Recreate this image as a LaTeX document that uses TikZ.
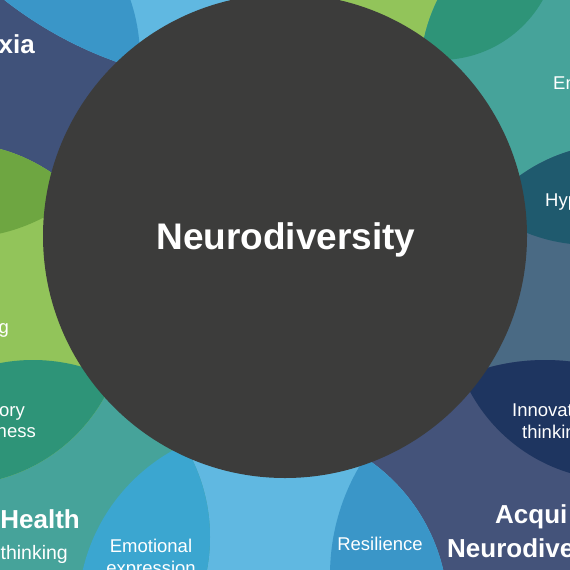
\documentclass[tikz,border=0pt]{standalone}
\usepackage{fontspec}
\setmainfont{Liberation Sans}

\definecolor{hubgrey}{HTML}{3C3C3B}
\definecolor{catnavy}{HTML}{40527A}
\definecolor{catsky}{HTML}{60B8E1}
\definecolor{catlime}{HTML}{92C45A}
\definecolor{catteal}{HTML}{46A39A}
\definecolor{catslate}{HTML}{4A6A84}
\definecolor{catindigo}{HTML}{44537A}
\definecolor{lensblue}{HTML}{3A96C8}
\definecolor{lensgreen}{HTML}{2E9478}
\definecolor{lenspetrol}{HTML}{1F5A6E}
\definecolor{lensnavy}{HTML}{1E3560}
\definecolor{lensaqua}{HTML}{3BA6D0}
\definecolor{lensolive}{HTML}{6EA641}

\begin{document}
\begin{tikzpicture}[x=1pt,y=-1pt,
    trait/.style={text=white, inner sep=0pt, font=\fontsize{18.5}{22}\selectfont},
    group/.style={text=white, inner sep=0pt, font=\fontsize{26}{31}\selectfont\bfseries}]
    \useasboundingbox (0,0) rectangle (570,570);
    \clip (0,0) rectangle (570,570);

    % ring of groups: centre x / centre y / radius / colour
    \foreach \cx/\cy/\r/\col in {-40/58/180/catnavy, 251/-315/400/catsky, 440/-58/118/catlime,
        590/75/170/catteal, 618/312/168/catslate, 545/575/215/catindigo,
        263/612/185/catsky, 33/537/177/catteal, -45/314/171/catlime}
    {
        \fill[\col] (\cx,\cy) circle (\r pt);
    }

    % where two neighbours overlap
    \foreach \ax/\ay/\ar/\bx/\by/\br/\col in {-40/58/180/251/-315/400/lensblue,
        440/-58/118/590/75/170/lensgreen, 590/75/170/618/312/168/lenspetrol,
        618/312/168/545/575/215/lensnavy, 545/575/215/263/612/185/lensblue,
        263/612/185/33/537/177/lensaqua, 33/537/177/-45/314/171/lensgreen,
        -45/314/171/-40/58/180/lensolive}
    {
        \begin{scope}
            \clip (\ax,\ay) circle (\ar pt);
            \fill[\col] (\bx,\by) circle (\br pt);
        \end{scope}
    }

    \node[circle, fill=hubgrey, minimum size=484pt, inner sep=0pt] (hub) at (285,236) {};
    \node[text=white, inner sep=0pt, anchor=base, font=\fontsize{37}{44}\selectfont\bfseries]
        (title) at (286,249) {Neurodiversity};

    % labels cut by the frame
    \node[group, anchor=base east] (dys) at (35,53) {xia};
    \node[trait, anchor=base west] (emp) at (553,89) {Em};
    \node[trait, anchor=base west] (hyp) at (545,206) {Hyp};
    \node[trait, anchor=base west] (innov) at (512,416) {Innovat};
    \node[trait, anchor=base west] (innov2) at (522,438) {thinkin};
    \node[group, anchor=base west] (acq) at (495,523) {Acqui};
    \node[group, anchor=base west] (acq2) at (447,557) {Neurodive};
    \node[trait, anchor=base] (resil) at (380,550) {Resilience};
    \node[trait, anchor=base] (emot) at (151,552) {Emotional};
    \node[trait, anchor=base] (emot2) at (151,574) {expression};
    \node[group, anchor=base east] (health) at (80,528) {Health};
    \node[trait, anchor=base east, font=\fontsize{19.5}{23}\selectfont] (think) at (68,559) {thinking};
    \node[trait, anchor=base east] (sens) at (25,416) {ory};
    \node[trait, anchor=base east] (sens2) at (36,437) {ness};
    \node[trait, anchor=base east] (proc) at (9,333) {g};
\end{tikzpicture}
\end{document}
